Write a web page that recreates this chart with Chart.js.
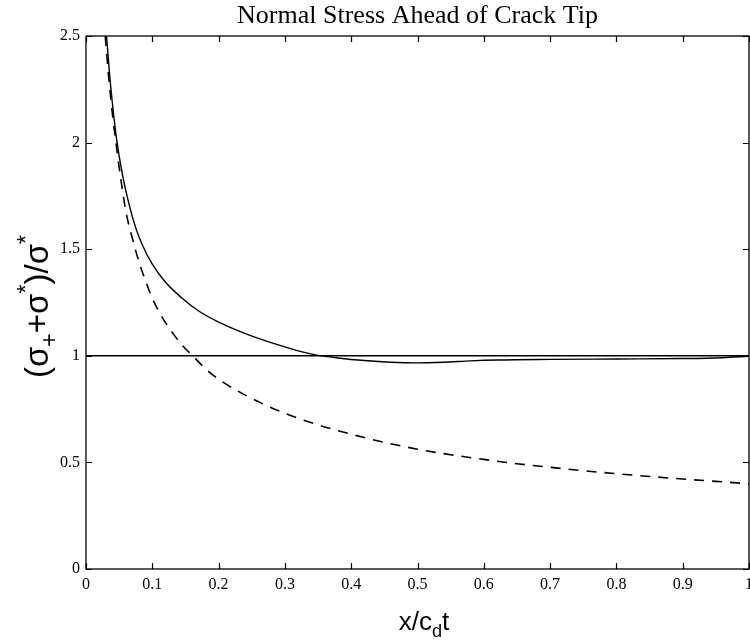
<!DOCTYPE html>
<html>
<head>
<meta charset="utf-8">
<script src="https://cdn.jsdelivr.net/npm/chart.js@4.4.1/dist/chart.umd.min.js"></script>
<style>
  html, body { margin: 0; padding: 0; background: #fff; }
  canvas { display: block; }
</style>
</head>
<body>
<canvas id="stress" width="750" height="640"></canvas>
<script>
// full solution (solid curve)
const solidX = [0.031, 0.035, 0.040, 0.046, 0.055, 0.065, 0.075, 0.085, 0.100, 0.120, 0.145, 0.170, 0.200, 0.230, 0.260, 0.290, 0.320, 0.350, 0.380, 0.420, 0.460, 0.500, 0.540, 0.580, 0.620, 0.700, 0.800, 0.900, 0.960, 1.000];
const solidY = [2.50, 2.34, 2.18, 2.02, 1.85, 1.71, 1.60, 1.52, 1.43, 1.345, 1.27, 1.21, 1.158, 1.117, 1.082, 1.051, 1.023, 1.002, 0.990, 0.978, 0.970, 0.967, 0.970, 0.976, 0.980, 0.983, 0.985, 0.987, 0.991, 0.998];

// singular term only (dashed curve)
const dashX = [0.029, 0.035, 0.040, 0.046, 0.052, 0.060, 0.070, 0.080, 0.090, 0.100, 0.115, 0.130, 0.145, 0.161, 0.180, 0.200, 0.250, 0.300, 0.350, 0.400, 0.450, 0.500, 0.550, 0.600, 0.650, 0.700, 0.750, 0.800, 0.850, 0.900, 0.950, 1.000];
const dashY = [2.50, 2.28, 2.13, 1.98, 1.84, 1.68, 1.55, 1.44, 1.35, 1.27, 1.18, 1.11, 1.05, 1.00, 0.94, 0.89, 0.80, 0.73, 0.676, 0.632, 0.594, 0.562, 0.536, 0.514, 0.494, 0.477, 0.461, 0.447, 0.434, 0.422, 0.411, 0.400];

// reference level
const refX = [0, 1];
const refY = [1, 1];

const xTicks = [0, 0.1, 0.2, 0.3, 0.4, 0.5, 0.6, 0.7, 0.8, 0.9, 1];
const yTicks = [0, 0.5, 1, 1.5, 2, 2.5];

const SERIF = '"Liberation Serif", "DejaVu Serif", serif';
const SANS = '"Liberation Sans", Arial, sans-serif';

function pts(xs, ys) {
  return xs.map((x, i) => ({ x: x, y: ys[i] }));
}

// draws text with sub/superscript pieces, centred on (0,0) of current transform
function richText(ctx, parts, size) {
  let w = 0;
  parts.forEach(p => {
    const s = p.sub || p.sup ? size * 0.7 : size;
    ctx.font = s + 'px ' + SANS;
    p.w = ctx.measureText(p.t).width;
    w += p.w;
  });
  let x = -w / 2;
  parts.forEach(p => {
    const s = p.sub || p.sup ? size * 0.7 : size;
    ctx.font = s + 'px ' + SANS;
    let dy = 0;
    if (p.sub) dy = size * 0.28;
    if (p.sup) dy = -size * 0.42;
    ctx.fillText(p.t, x, dy);
    x += p.w;
  });
}

const matlabFrame = {
  id: 'matlabFrame',
  afterDraw(chart) {
    const ctx = chart.ctx;
    const a = chart.chartArea;
    const xs = chart.scales.x, ys = chart.scales.y;
    ctx.save();
    ctx.strokeStyle = '#000';
    ctx.fillStyle = '#000';
    ctx.lineWidth = 1.3;
    ctx.strokeRect(a.left, a.top, a.right - a.left, a.bottom - a.top);

    // inward tick marks
    ctx.lineWidth = 1.2;
    ctx.beginPath();
    xTicks.forEach(v => {
      const px = Math.round(xs.getPixelForValue(v)) + 0.5;
      ctx.moveTo(px, a.bottom); ctx.lineTo(px, a.bottom - 6);
      ctx.moveTo(px, a.top); ctx.lineTo(px, a.top + 6);
    });
    yTicks.forEach(v => {
      const py = Math.round(ys.getPixelForValue(v)) + 0.5;
      ctx.moveTo(a.left, py); ctx.lineTo(a.left + 6, py);
      ctx.moveTo(a.right, py); ctx.lineTo(a.right - 6, py);
    });
    ctx.stroke();

    // title
    ctx.textAlign = 'center';
    ctx.textBaseline = 'alphabetic';
    ctx.font = '26px ' + SERIF;
    ctx.fillText('Normal Stress Ahead of Crack Tip', (a.left + a.right) / 2, 23);

    // x axis title
    ctx.textAlign = 'left';
    ctx.save();
    ctx.translate(424, 630);
    richText(ctx, [{ t: 'x/c' }, { t: 'd', sub: true }, { t: 't' }], 26);
    ctx.restore();

    // y axis title
    ctx.save();
    ctx.translate(48, (a.top + a.bottom) / 2 + 4);
    ctx.rotate(-Math.PI / 2);
    richText(ctx, [
      { t: '(σ' }, { t: '+', sub: true }, { t: '+σ' }, { t: '*', sup: true },
      { t: ')/σ' }, { t: '*', sup: true }
    ], 33);
    ctx.restore();
    ctx.restore();
  }
};

const data = {
  datasets: [{
    label: 'reference',
    data: pts(refX, refY),
    borderColor: '#000',
    borderWidth: 1.5,
    pointRadius: 0
  }, {
    label: 'full',
    data: pts(solidX, solidY),
    borderColor: '#000',
    borderWidth: 1.4,
    pointRadius: 0,
    cubicInterpolationMode: 'monotone'
  }, {
    label: 'singular',
    data: pts(dashX, dashY),
    borderColor: '#000',
    borderWidth: 1.6,
    borderDash: [10, 8],
    pointRadius: 0,
    cubicInterpolationMode: 'monotone'
  }]
};

const config = {
  type: 'line',
  data: data,
  options: {
    responsive: false,
    animation: false,
    devicePixelRatio: 1,
    layout: { padding: { top: 36, right: 1, left: 0, bottom: 0 } },
    plugins: {
      legend: { display: false },
      title: { display: false },
      tooltip: { enabled: false }
    },
    scales: {
      x: {
        type: 'linear',
        min: 0,
        max: 1,
        afterBuildTicks: s => { s.ticks = xTicks.map(v => ({ value: v })); },
        afterFit: s => { s.height = 71; s.paddingLeft = 0; s.paddingRight = 0; },
        grid: { display: false, drawTicks: false },
        border: { display: false },
        ticks: {
          color: '#000',
          padding: 6,
          maxRotation: 0,
          autoSkip: false,
          font: { family: SERIF, size: 16 },
          callback: v => String(v)
        }
      },
      y: {
        min: 0,
        max: 2.5,
        afterBuildTicks: s => { s.ticks = yTicks.map(v => ({ value: v })); },
        afterFit: s => { s.width = 86; s.paddingTop = 0; s.paddingBottom = 0; },
        grid: { display: false, drawTicks: false },
        border: { display: false },
        ticks: {
          color: '#000',
          padding: 6,
          autoSkip: false,
          font: { family: SERIF, size: 16 },
          callback: v => String(v)
        }
      }
    }
  },
  plugins: [matlabFrame]
};

const stress = new Chart(document.getElementById('stress'), config);
</script>
</body>
</html>
